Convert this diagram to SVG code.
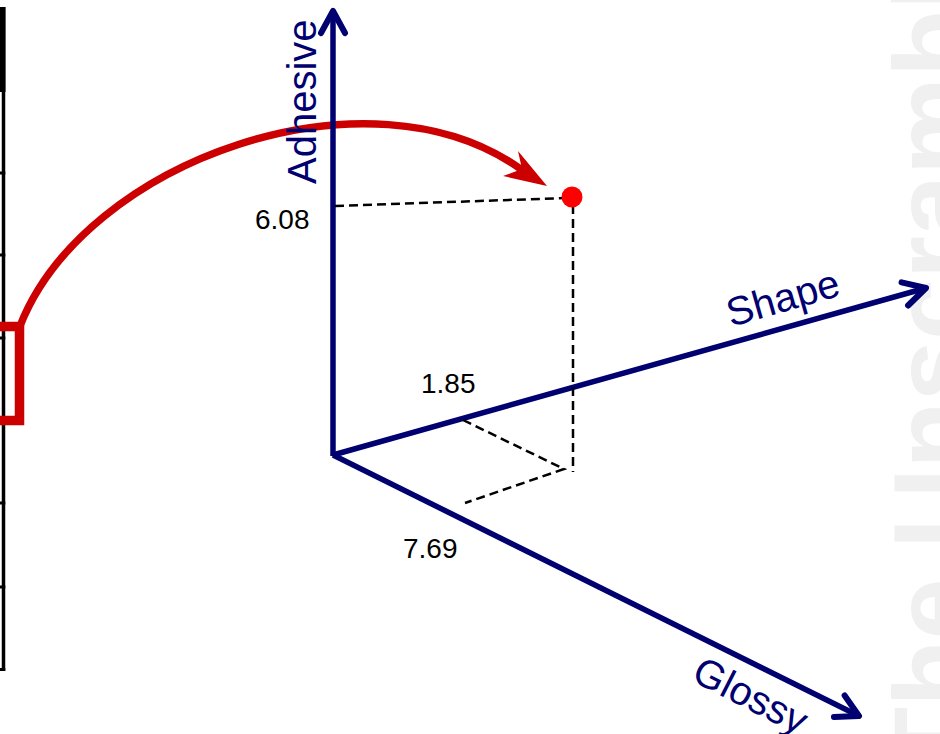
<svg xmlns="http://www.w3.org/2000/svg" width="940" height="734" viewBox="0 0 940 734">
  <style>
    .axis { stroke: #000070; stroke-width: 5.5; fill: none; }
    .axlabel { font-family: "Liberation Sans", Arial, sans-serif; font-size: 40px; fill: #000070; }
    .num { font-family: "Liberation Sans", Arial, sans-serif; font-size: 28px; fill: #000000; }
    .dash { stroke: #000000; stroke-width: 2.5; stroke-dasharray: 9 5; fill: none; }
    .scale { stroke: #000000; fill: none; }
    .wm { font-family: "Liberation Sans", Arial, sans-serif; font-weight: bold; font-size: 110px; fill: #f0f0f0; }
  </style>
  <defs>
    <marker id="chev" markerUnits="userSpaceOnUse" orient="auto" refX="0" refY="0" markerWidth="40" markerHeight="40" overflow="visible">
      <path d="M-22,-12 L0,0 L-22,12" fill="none" stroke="#000070" stroke-width="6" stroke-linecap="round" stroke-linejoin="round"/>
    </marker>
  </defs>
  <rect width="940" height="734" fill="#ffffff"/>

  <g id="watermark">
    <text class="wm" transform="translate(970,774) rotate(-90)">The Unscrambl</text>
  </g>

  <g id="left-scale">
    <rect x="0" y="7" width="5.5" height="85" fill="#000000"/>
    <line class="scale" x1="3.5" y1="7" x2="3.5" y2="671" stroke-width="3.5"/>
    <path class="scale" stroke-width="3" d="M0,173 H5.3 M0,255 H5.3 M0,338 H5.3 M0,422 H5.3 M0,503 H5.3 M0,587 H5.3 M0,669.5 H5.3"/>
  </g>

  <g id="connectors">
    <path id="red-box" d="M-6,326.5 H19.5 V420.5 H-6" fill="none" stroke="#cc0000" stroke-width="9.5"/>
    <path id="red-arc" d="M20,326 C85,160 370,60 522,170" fill="none" stroke="#cc0000" stroke-width="7.5"/>
    <polygon id="red-head" points="547,186 518,151 522,169 503,176" fill="#cc0000"/>
  </g>

  <g id="axis-adhesive">
    <line class="axis" x1="333" y1="456" x2="333" y2="11" marker-end="url(#chev)"/>
    <text class="axlabel" transform="translate(316,184) rotate(-90)">Adhesive</text>
  </g>
  <g id="axis-shape">
    <line class="axis" x1="333" y1="455" x2="926" y2="288" marker-end="url(#chev)"/>
    <text class="axlabel" transform="translate(731,327) rotate(-16)">Shape</text>
  </g>
  <g id="axis-glossy">
    <line class="axis" x1="333" y1="455" x2="859" y2="716" marker-end="url(#chev)"/>
    <text class="axlabel" transform="translate(690,680) rotate(27)">Glossy</text>
  </g>

  <g id="projections">
    <line class="dash" x1="335" y1="206" x2="566" y2="198"/>
    <line class="dash" x1="573" y1="205" x2="573" y2="472"/>
    <polyline class="dash" points="463,420 564,469 465,503"/>
  </g>

  <g id="point">
    <circle cx="572" cy="197" r="10.5" fill="#ff0000"/>
  </g>

  <g id="values">
    <text class="num" x="255" y="229">6.08</text>
    <text class="num" x="421" y="393">1.85</text>
    <text class="num" x="403" y="558">7.69</text>
  </g>
</svg>
